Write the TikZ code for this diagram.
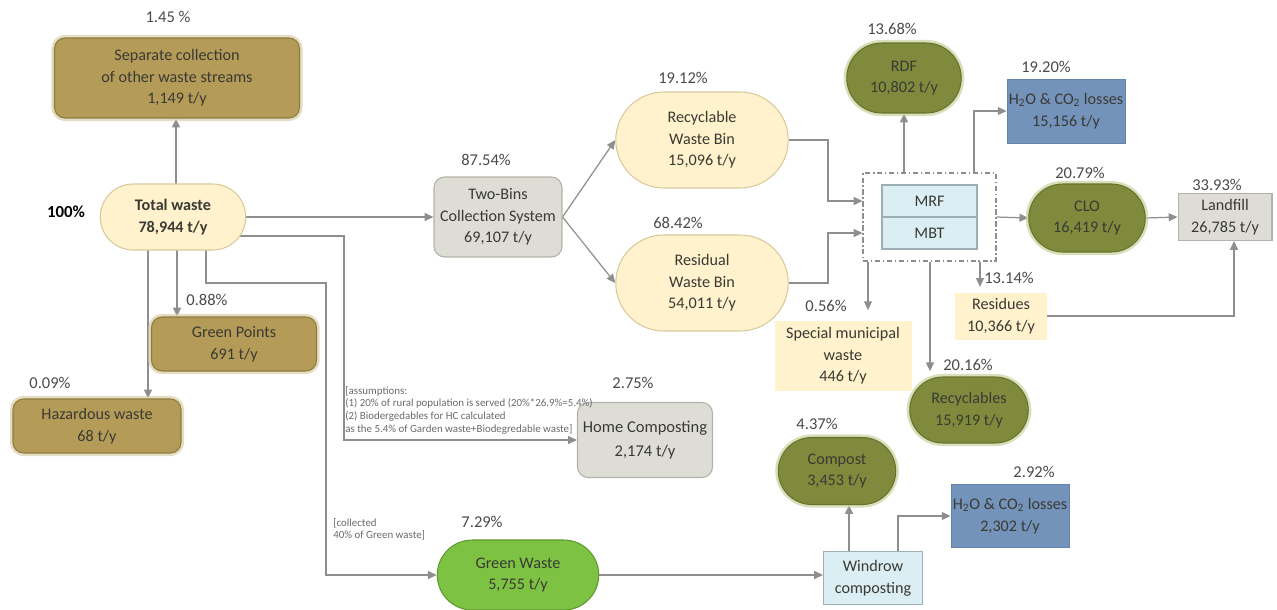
\documentclass[tikz,border=0pt]{standalone}
\usepackage{fontspec}
\setmainfont{Carlito}
\usetikzlibrary{shapes.misc,arrows.meta,backgrounds}

\definecolor{txtcol}{HTML}{3A3A34}
\definecolor{pctcol}{HTML}{4A4A4A}
\definecolor{notecol}{HTML}{6A6A6A}
\definecolor{linecol}{HTML}{8E8E8E}
\definecolor{creamfill}{HTML}{FFF2CC}
\definecolor{creamline}{HTML}{D8C99C}
\definecolor{brownfill}{HTML}{B49B58}
\definecolor{brownline}{HTML}{8E7A42}
\definecolor{brownglow}{HTML}{D9CFA6}
\definecolor{olivefill}{HTML}{7F8A3C}
\definecolor{oliveline}{HTML}{68722F}
\definecolor{oliveglow}{HTML}{C9D19A}
\definecolor{greyfill}{HTML}{DEDDD5}
\definecolor{greyline}{HTML}{B3B2A8}
\definecolor{bluefill}{HTML}{7393BA}
\definecolor{blueline}{HTML}{6283AB}
\definecolor{lbluefill}{HTML}{DAEEF3}
\definecolor{lblueline}{HTML}{9DAFB5}
\definecolor{greenfill}{HTML}{7DC243}
\definecolor{greenline}{HTML}{5E9A2E}

\begin{document}
\begin{tikzpicture}[x=0.02cm,y=-0.02cm,
  every node/.style={font=\fontsize{9.2}{12.3}\selectfont,text=txtcol,align=center,inner sep=1pt},
  pill/.style={rounded rectangle},
  rbox/.style={rectangle,rounded corners=6pt},
  cream/.style={fill=creamfill,draw=creamline,line width=0.6pt},
  brown/.style={fill=brownfill,draw=brownline,line width=0.6pt,preaction={draw=brownglow,line width=3.5pt,opacity=.7}},
  olive/.style={fill=olivefill,draw=oliveline,line width=0.6pt,preaction={draw=oliveglow,line width=3.5pt,opacity=.7}},
  grey/.style={fill=greyfill,draw=greyline,line width=0.6pt},
  losses/.style={rectangle,fill=bluefill,draw=blueline,line width=0.5pt},
  plant/.style={rectangle,fill=lbluefill,draw=lblueline,line width=0.6pt},
  flat/.style={rectangle,fill=creamfill},
  pct/.style={font=\fontsize{9.4}{11}\selectfont,text=pctcol},
  note/.style={font=\fontsize{6.2}{7.2}\selectfont,text=notecol,align=left,anchor=north west,inner sep=0pt},
  conn/.style={draw=linecol,line width=0.7pt},
  arr/.style={conn,-{Triangle[length=5pt,width=4.5pt]}}]

  \useasboundingbox (0,0) rectangle (1277,609);

  % sources
  \node[rbox,brown,minimum width=4.9cm,minimum height=1.6cm] (sepcoll) at (177,78)
    {Separate collection\\of other waste streams\\1,149 t/y};
  \node[pill,cream,minimum width=2.98cm,minimum height=1.32cm] (total) at (173,217)
    {\textbf{Total waste}\\\textbf{78,944 t/y}};
  \node[rbox,brown,minimum width=3.3cm,minimum height=1.08cm] (greenpts) at (234,344)
    {Green Points\\691 t/y};
  \node[rbox,brown,minimum width=3.36cm,minimum height=1.08cm] (hazard) at (97,426)
    {Hazardous waste\\68 t/y};

  % two bins
  \node[rbox,grey,minimum width=2.56cm,minimum height=1.6cm] (twobins) at (498,217)
    {Two-Bins\\Collection System\\69,107 t/y};
  \node[pill,cream,minimum width=3.52cm,minimum height=1.92cm] (recyc) at (702,140)
    {Recyclable\\Waste Bin\\15,096 t/y};
  \node[pill,cream,minimum width=3.52cm,minimum height=1.92cm] (resid) at (702,283)
    {Residual\\Waste Bin\\54,011 t/y};

  % treatment
  \node[rectangle,draw=linecol,line width=0.6pt,dash pattern=on 3pt off 1.5pt on 0.8pt off 1.5pt,
    minimum width=2.66cm,minimum height=1.76cm] (mrfout) at (929.5,217) {};
  \node[plant,minimum width=1.9cm,minimum height=0.64cm] (mrf) at (929.5,201) {MRF};
  \node[plant,minimum width=1.9cm,minimum height=0.64cm] (mbt) at (929.5,233) {MBT};

  % outputs
  \node[pill,olive,minimum width=2.36cm,minimum height=1.4cm] (rdf) at (904,78) {RDF\\10,802 t/y};
  \node[losses,minimum width=2.3cm,minimum height=1.28cm] (h2oa) at (1066,111)
    {H\textsubscript{2}O \& CO\textsubscript{2} losses\\15,156 t/y};
  \node[pill,olive,minimum width=2.4cm,minimum height=1.36cm] (clo) at (1087,218) {CLO\\16,419 t/y};
  \node[rectangle,grey,minimum width=1.88cm,minimum height=0.94cm] (landfill) at (1225,217)
    {Landfill\\26,785 t/y};
  \node[flat,minimum width=1.84cm,minimum height=0.94cm] (residues) at (1001,316)
    {Residues\\10,366 t/y};
  \node[flat,minimum width=2.74cm,minimum height=1.4cm] (special) at (843,356)
    {Special municipal\\waste\\446 t/y};
  \node[pill,olive,minimum width=2.44cm,minimum height=1.32cm] (recycl) at (969,410)
    {Recyclables\\15,919 t/y};

  % composting
  \node[rbox,grey,minimum width=2.7cm,minimum height=1.5cm,font=\fontsize{9.4}{13.5}\selectfont] (homecomp) at (645,440)
    {Home Composting\\2,174 t/y};
  \node[pill,fill=greenfill,draw=greenline,line width=0.6pt,minimum width=3.3cm,minimum height=1.4cm] (greenw) at (518,575)
    {Green Waste\\5,755 t/y};
  \node[plant,minimum width=1.98cm,minimum height=1.06cm] (windrow) at (873,578)
    {Windrow\\composting};
  \node[pill,olive,minimum width=2.42cm,minimum height=1.34cm] (compost) at (837,471)
    {Compost\\3,453 t/y};
  \node[losses,minimum width=2.3cm,minimum height=1.26cm] (h2ob) at (1010,516)
    {H\textsubscript{2}O \& CO\textsubscript{2} losses\\2,302 t/y};

  % percentages
  \node[pct] (p-sepcoll) at (168,17) {1.45 \%};
  \node[pct,font=\fontsize{9.6}{11}\bfseries,text=black] (p-total) at (66,212) {100\%};
  \node[pct] (p-greenpts) at (207,300) {0.88\%};
  \node[pct] (p-hazard) at (50,383) {0.09\%};
  \node[pct] (p-twobins) at (486,160) {87.54\%};
  \node[pct] (p-recyc) at (683,78) {19.12\%};
  \node[pct] (p-resid) at (678,223) {68.42\%};
  \node[pct] (p-rdf) at (892,29) {13.68\%};
  \node[pct] (p-h2oa) at (1046,67) {19.20\%};
  \node[pct] (p-clo) at (1080,173) {20.79\%};
  \node[pct] (p-landfill) at (1217,185) {33.93\%};
  \node[pct] (p-residues) at (1009,278) {13.14\%};
  \node[pct] (p-special) at (826,306) {0.56\%};
  \node[pct] (p-recycl) at (968,365) {20.16\%};
  \node[pct] (p-homecomp) at (633,383) {2.75\%};
  \node[pct] (p-greenw) at (482,522) {7.29\%};
  \node[pct] (p-compost) at (817,424) {4.37\%};
  \node[pct] (p-h2ob) at (1034,472) {2.92\%};

  % notes
  \node[note] (n-home) at (345,386)
    {[assumptions:\\(1) 20\% of rural population is served (20\%*26.9\%=5.4\%)\\(2) Biodergedables for HC calculated\\as the 5.4\% of Garden waste+Biodegredable waste]};
  \node[note] (n-green) at (333,518) {[collected\\40\% of Green waste]};

  % flows
  \begin{scope}[on background layer]
    \draw[arr] (total -| 176,0) -- (sepcoll.south -| 176,0);
    \draw[arr] (total.east) -- (twobins.west);
    \draw[arr] (total |- 0,236) -- (344,236) |- (homecomp.west);
    \draw[arr] (total -| 206,0) |- (326,283) |- (greenw.west);
    \draw[arr] (total -| 177,0) -- (greenpts.north -| 177,0);
    \draw[arr] (total -| 148,0) -- (hazard.north -| 148,0);
    \draw[arr] (twobins.east) -- (recyc.west);
    \draw[arr] (twobins.east) -- (resid.west);
    \draw[arr] (recyc.east) -| (828,201) -- (mrfout.west |- 0,201);
    \draw[arr] (resid.east) -| (828,233) -- (mrfout.west |- 0,233);
    \draw[arr] (rdf.south |- mrfout.north) -- (rdf.south);
    \draw[arr] (mrfout.north -| 974,0) |- (h2oa.west);
    \draw[arr] (mrfout.east) -- (clo.west);
    \draw[arr] (clo.east) -- (landfill.west);
    \draw[arr,shorten >=6pt] (mrfout.south -| 868,0) -- (special.north -| 868,0);
    \draw[arr,shorten >=3pt] (mrfout.south -| 930,0) -- (recycl.north -| 930,0);
    \draw[arr,shorten >=3pt] (mrfout.south -| 980,0) -- (residues.north -| 980,0);
    \draw[arr] (residues.east) -| (landfill.south -| 1234,0);
    \draw[arr] (greenw.east) -- (windrow.west |- greenw.east);
    \draw[arr] (windrow.north -| 849,0) -- (compost.south -| 849,0);
    \draw[arr] (windrow.north -| 898,0) |- (h2ob.west);
  \end{scope}
\end{tikzpicture}
\end{document}
